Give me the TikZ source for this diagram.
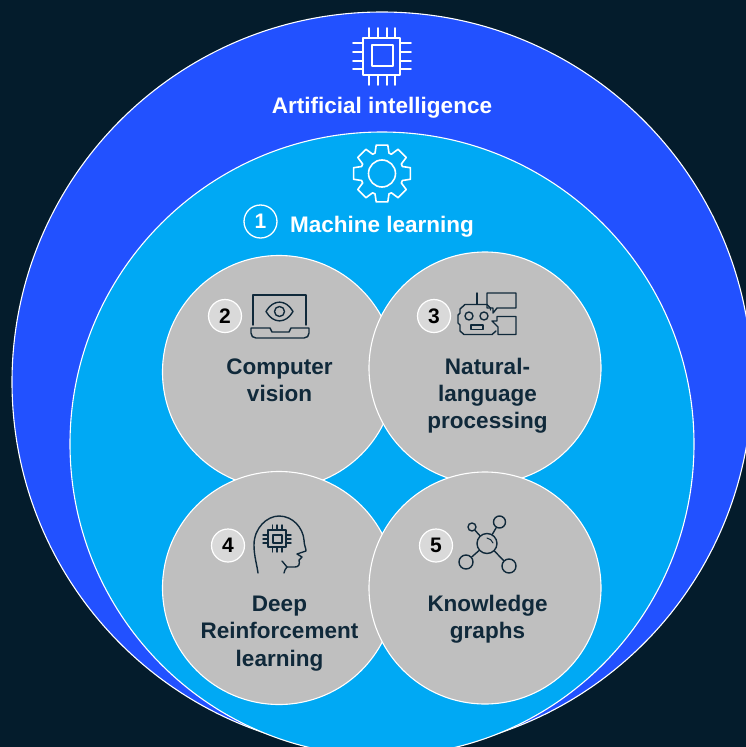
\documentclass[tikz,border=0pt]{standalone}
\usepackage{fontspec}
\setmainfont{Liberation Sans}
\definecolor{bgnavy}{HTML}{041C2C}
\definecolor{royal}{HTML}{2251FF}
\definecolor{sky}{HTML}{00A9F4}
\definecolor{greyfill}{HTML}{BFBFBF}
\definecolor{badge}{HTML}{D9D9D9}
\definecolor{inkc}{HTML}{10293A}
\tikzset{
  x=1pt,y=-1pt,
  bigc/.style={circle,draw=white,line width=1.1pt,inner sep=0pt,minimum size=#1},
  lab/.style={font=\bfseries\fontsize{22.5}{27.2}\selectfont,text=inkc,align=center,inner sep=0pt},
  wlab/.style={font=\bfseries\fontsize{22.5}{26}\selectfont,text=white,inner sep=0pt},
  num/.style={circle,draw=white,fill=badge,line width=1.2pt,minimum size=33pt,inner sep=0pt,font=\bfseries\fontsize{21}{24}\selectfont,text=black},
  wicon/.style={draw=white,line width=1.6pt,line cap=round,line join=round},
  dicon/.style={draw=inkc,line width=1.4pt,line cap=round,line join=round}
}
\begin{document}
\begin{tikzpicture}
\useasboundingbox (0,0) rectangle (746,747);
\clip (0,0) rectangle (746,747);
\fill[bgnavy] (0,0) rectangle (746,747);
\node[bigc=740pt,fill=royal] (ai) at (382,382) {};
\node[bigc=624pt,fill=sky] (ml) at (382,444) {};
\node[bigc=233pt,fill=greyfill] (cv) at (279,372) {};
\node[bigc=232pt,fill=greyfill] (nl) at (485,368) {};
\node[bigc=233pt,fill=greyfill] (dr) at (279,588) {};
\node[bigc=232pt,fill=greyfill] (kg) at (485,588) {};
% chip icon
\draw[wicon] (363,38) rectangle (400,75);
\draw[wicon] (372,45) rectangle (393,66);
\foreach \p in {369,378,387,395}{\draw[wicon] (\p,28) -- (\p,38); \draw[wicon] (\p,75) -- (\p,85);}
\foreach \p in {43,52,61,69}{\draw[wicon] (353,\p) -- (363,\p); \draw[wicon] (400,\p) -- (411,\p);}
% gear icon
\begin{scope}[shift={(382,173.5)}]
\draw[wicon] (0,0) circle (13.5);
\foreach \a in {0,45,...,315}{
  \draw[wicon] ({\a-22.5}:21.5) -- ({\a-19}:21.5) -- ({\a-11.5}:29) -- ({\a+11.5}:29) -- ({\a+19}:21.5) -- ({\a+22.5}:21.5);
}
\end{scope}
\node[wlab] (tai) at (382,108) {Artificial intelligence};
\node[wlab] (tml) at (382,227) {Machine learning};
\node[circle,draw=white,line width=1.3pt,minimum size=33pt,inner sep=0pt,text=white,font=\bfseries\fontsize{21}{24}\selectfont] (n1) at (260.5,221.5) {1};
\node[num] (n2) at (225,316) {2};
\node[num] (n3) at (434,316) {3};
\node[num] (n4) at (228,545.5) {4};
\node[num] (n5) at (436,545.5) {5};
\node[lab] (tcv) at (279.5,380.5) {Computer\\vision};
\node[lab] (tnl) at (487.5,395.5) {Natural-\\language\\processing};
\node[lab] (tdr) at (279.5,633.5) {Deep\\Reinforcement\\learning};
\node[lab] (tkg) at (487.5,619.5) {Knowledge\\graphs};
% laptop
\draw[dicon] (253,325) -- (253,295) -- (306,295) -- (306,325);
\draw[dicon] (251,328) -- (270,328) -- (272,332) -- (289,332) -- (291,328) -- (309,328) -- (309,333) .. controls (309,336) and (307,338) .. (304,338) -- (256,338) .. controls (253,338) and (251,336) .. (251,333) -- cycle;
\draw[dicon] (266,311.5) .. controls (273,299) and (286,299) .. (293,311.5) .. controls (286,324) and (273,324) .. (266,311.5) -- cycle;
\draw[dicon] (279.5,311.5) circle (5);
% robot
\draw[dicon] (477,293) -- (477,304);
\draw[dicon] (490.5,310) -- (490.5,308) -- (487,304.5) -- (465,304.5) -- (460,309) -- (460,313) -- (458,315) -- (458,323) -- (460,325) -- (460,331) -- (464,334.5) -- (492,334.5) -- (496,331);
\draw[dicon] (469,316) circle (4); \draw[dicon] (484,316) circle (4);
\draw[dicon] (471,325) rectangle (483,329.5);
\draw[dicon] (487,293) -- (516,293) -- (516,308) -- (497,308) -- (493,313) -- (493,308) -- (487,308) -- cycle;
\draw[dicon] (497,316.5) -- (516,316.5) -- (516,334.5) -- (498,334.5) -- (498,327) -- (492,321) -- (497,321) -- cycle;
% head
\draw[dicon] (258,573) .. controls (257,565) and (254,556) .. (254,545) .. controls (254,528) and (267,516) .. (279,516) .. controls (293,516) and (303,528) .. (304,540) .. controls (304,545) and (306,548) .. (306,551) -- (297,554) -- (302,557) -- (299,560) .. controls (300,564) and (299,567) .. (295,567) -- (287,567) .. controls (285,568) and (285,571) .. (284,573);
\draw[dicon] (282,561) -- (287,567);
\draw[dicon] (268,530) rectangle (286,547);
\draw[dicon] (273,535) rectangle (282,543);
\foreach \p in {272.5,277,282}{\draw[dicon] (\p,525) -- (\p,530); \draw[dicon] (\p,547) -- (\p,552);}
\foreach \p in {535,539,543}{\draw[dicon] (263,\p) -- (268,\p); \draw[dicon] (286,\p) -- (291,\p);}
% network
\node[circle,dicon,minimum size=20pt,inner sep=0pt] (hub) at (487,543.5) {};
\node[circle,dicon,minimum size=12pt,inner sep=0pt] (s1) at (499.5,522) {};
\node[circle,dicon,minimum size=8pt,inner sep=0pt] (s2) at (472,527) {};
\node[circle,dicon,minimum size=14pt,inner sep=0pt] (s3) at (466,562) {};
\node[circle,dicon,minimum size=14pt,inner sep=0pt] (s4) at (509,566) {};
\draw[dicon] (hub) -- (s1); \draw[dicon] (hub) -- (s2); \draw[dicon] (hub) -- (s3); \draw[dicon] (hub) -- (s4);
\draw[dicon,line width=1pt] (487,538) .. controls (490,538.5) and (492,540.5) .. (493,543);
\end{tikzpicture}
\end{document}
